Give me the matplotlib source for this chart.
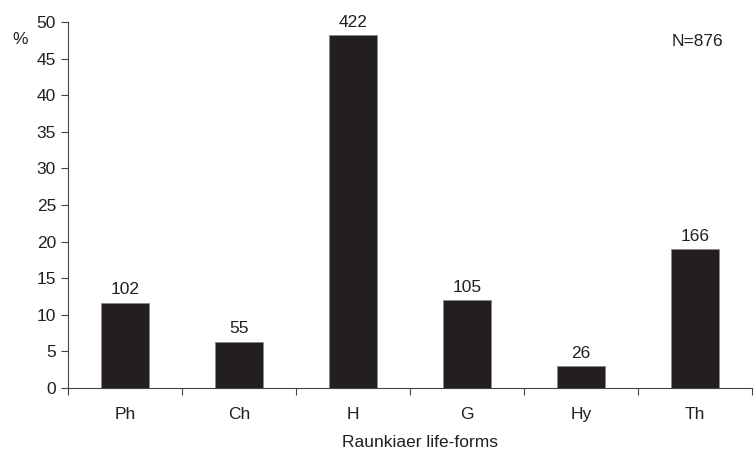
import matplotlib
matplotlib.use("Agg")
import matplotlib.pyplot as plt
import numpy as np

categories = ["Ph", "Ch", "H", "G", "Hy", "Th"]
counts = [102, 55, 422, 105, 26, 166]
total = 876
percent = [c / total * 100 for c in counts]
y_ticks = [0, 5, 10, 15, 20, 25, 30, 35, 40, 45, 50]

plt.rcParams["font.family"] = ["Liberation Sans", "DejaVu Sans"]
TXT = "#231f20"
FS = 12.5

fig = plt.figure(figsize=(7.54, 4.53), dpi=100)
ax = fig.add_axes([0.090, 0.1435, 0.907, 0.808])

x = np.arange(len(categories))
ax.bar(x, percent, width=0.42, color="#231f20", edgecolor="#8a8a8a", linewidth=0.6)

for xi, p, c in zip(x, percent, counts):
    ax.annotate(str(c), (xi, p), xytext=(0, 4), textcoords="offset points",
                ha="center", va="bottom", fontsize=FS, color=TXT)

ax.set_xlim(-0.5, len(categories) - 0.5)
ax.set_ylim(0, 50)
ax.set_yticks(y_ticks)
ax.set_xticks(x)
ax.set_xticklabels(categories)
ax.set_xticks(np.arange(len(categories) + 1) - 0.5, minor=True)
ax.tick_params(axis="x", which="major", length=0, pad=14, labelsize=FS, colors=TXT)
ax.tick_params(axis="x", which="minor", length=5, width=0.8, color="#444444", direction="out")
ax.tick_params(axis="y", length=5, width=0.8, color="#444444", labelsize=FS, labelcolor=TXT)

for s in ("top", "right"):
    ax.spines[s].set_visible(False)
for s in ("left", "bottom"):
    ax.spines[s].set_color("#444444")
    ax.spines[s].set_linewidth(0.8)

ax.set_xlabel("Raunkiaer life-forms", fontsize=FS, color=TXT, va="center")
ax.xaxis.set_label_coords((420 - 68) / 684, -(443 - 388) / 366)
fig.text(20 / 754, 1 - 40 / 453, "%", fontsize=FS, color=TXT, ha="center", va="center")
fig.text(697 / 754, 1 - 42 / 453, "N=876", fontsize=FS, color=TXT, ha="center", va="center")

fig.savefig("out.png", dpi=100)
